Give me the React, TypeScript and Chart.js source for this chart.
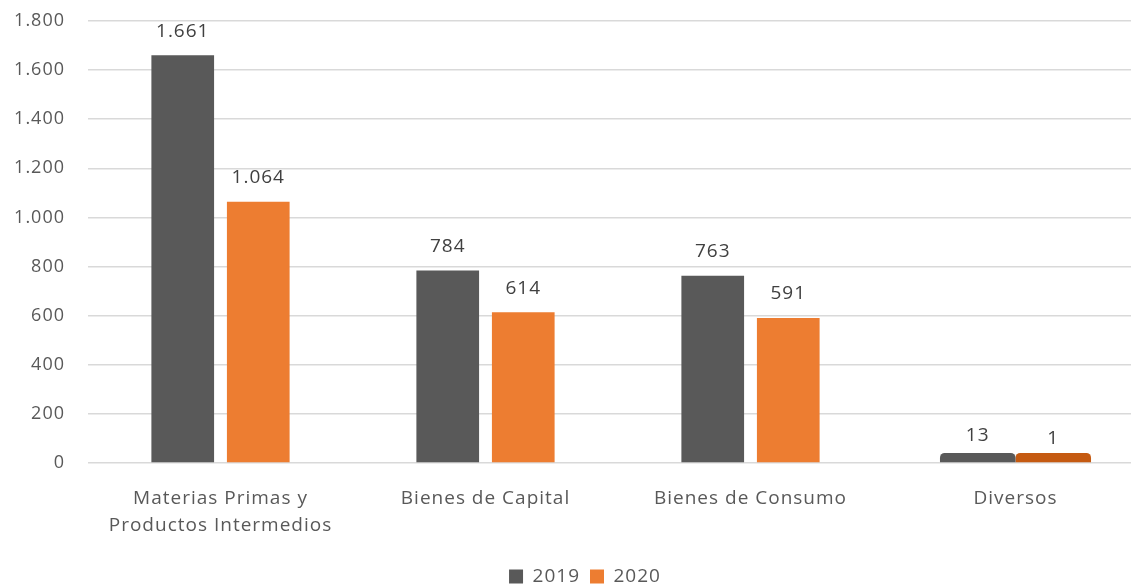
import React, { useEffect, useRef } from "react";
import { Chart, registerables } from "chart.js";

Chart.register(...registerables);

const categories: (string | string[])[] = [
  ["Materias Primas y", "Productos Intermedios"],
  "Bienes de Capital",
  "Bienes de Consumo",
  "Diversos",
];
const seriesNames = ["2019", "2020"];
const values2019 = [1661, 784, 763, 13];
const values2020 = [1064, 614, 591, 1];
const yTicks = [0, 200, 400, 600, 800, 1000, 1200, 1400, 1600, 1800];

const FONT = "'Open Sans', sans-serif";
const fmt = (n: number) => String(n).replace(/\B(?=(\d{3})+(?!\d))/g, ".");

const spacingPlugin = {
  id: "spacing",
  beforeLayout(chart: any) {
    chart.ctx.letterSpacing = "1px";
  },
  beforeDraw(chart: any) {
    chart.ctx.letterSpacing = "1px";
  },
};

const widenPlugin = {
  id: "widen",
  afterDatasetsUpdate(chart: any) {
    const x = chart.scales.x;
    const catW = x.width / categories.length;
    const slot = (catW * 0.57) / chart.data.datasets.length;
    chart.data.datasets.forEach((_: any, di: number) => {
      const meta = chart.getDatasetMeta(di);
      const el = meta.data[3];
      if (el) el.width = slot;
    });
  },
};

const labelPlugin = {
  id: "valueLabels",
  afterDatasetsDraw(chart: any) {
    const ctx = chart.ctx;
    const y = chart.scales.y;
    ctx.save();
    ctx.letterSpacing = "1px";
    ctx.font = `19px ${FONT}`;
    ctx.fillStyle = "#404040";
    ctx.textAlign = "center";
    ctx.textBaseline = "middle";
    chart.data.datasets.forEach((ds: any, di: number) => {
      const meta = chart.getDatasetMeta(di);
      meta.data.forEach((el: any, i: number) => {
        const v = ds.data[i];
        ctx.fillText(fmt(v), el.x, y.getPixelForValue(v) - 24);
      });
    });
    ctx.restore();
  },
};

export default function App() {
  const ref = useRef<HTMLCanvasElement>(null);
  useEffect(() => {
    if (!ref.current) return;
    const chart = new Chart(ref.current, {
      type: "bar",
      data: {
        labels: categories,
        datasets: [
          {
            label: seriesNames[0],
            data: values2019,
            backgroundColor: "#595959",
            categoryPercentage: 0.57,
            barPercentage: 0.83,
            minBarLength: 10,
            borderRadius: (c: any) => (c.dataIndex === 3 ? 6 : 0),
          },
          {
            label: seriesNames[1],
            data: values2020,
            backgroundColor: (c: any) => (c.dataIndex === 3 ? "#C55A11" : "#ED7D31"),
            categoryPercentage: 0.57,
            barPercentage: 0.83,
            minBarLength: 10,
            borderRadius: (c: any) => (c.dataIndex === 3 ? 6 : 0),
          },
        ],
      },
      options: {
        animation: false,
        responsive: false,
        devicePixelRatio: 1,
        layout: { padding: { top: 21, right: 0, left: 0, bottom: -8 } },
        plugins: {
          legend: {
            position: "bottom",
            labels: {
              boxWidth: 14,
              boxHeight: 14,
              padding: 10,
              color: "#595959",
              font: { family: FONT, size: 19 },
              generateLabels: (ch: any) =>
                ch.data.datasets.map((ds: any, i: number) => ({
                  text: ds.label,
                  fillStyle: i === 0 ? "#595959" : "#ED7D31",
                  strokeStyle: "transparent",
                  lineWidth: 0,
                  datasetIndex: i,
                  fontColor: "#595959",
                })),
            },
          },
          tooltip: { enabled: false },
        },
        scales: {
          x: {
            grid: { display: false },
            border: { display: false },
            ticks: {
              color: "#595959",
              font: { family: FONT, size: 19, lineHeight: 1.42 },
              padding: 14,
              maxRotation: 0,
              autoSkip: false,
            },
            afterFit: (s: any) => {
              s.height = 94;
              s.paddingLeft = 0;
              s.paddingRight = 0;
            },
          },
          y: {
            min: 0,
            max: 1800,
            afterBuildTicks: (s: any) => {
              s.ticks = yTicks.map((v) => ({ value: v }));
            },
            grid: { color: "#d9d9d9", lineWidth: 1.5, drawTicks: false },
            border: { display: false },
            ticks: {
              color: "#595959",
              font: { family: FONT, size: 18 },
              padding: 23,
              callback: (v: any) => fmt(Number(v)),
            },
            afterFit: (s: any) => {
              s.width = 88;
              s.paddingTop = 0;
              s.paddingBottom = 0;
            },
          },
          yRight: {
            position: "right",
            min: 0,
            max: 1800,
            grid: { display: false },
            border: { display: false },
            ticks: { display: false },
            afterFit: (s: any) => {
              s.width = 22;
              s.paddingTop = 0;
              s.paddingBottom = 0;
            },
          },
        },
      },
      plugins: [spacingPlugin, widenPlugin, labelPlugin],
    } as any);
    return () => chart.destroy();
  }, []);
  return (
    <div style={{ position: "fixed", left: 0, top: 0, width: 1131, height: 588, overflow: "hidden", background: "#fff" }}>
      <canvas ref={ref} width={1170} height={588} style={{ display: "block" }} />
    </div>
  );
}
